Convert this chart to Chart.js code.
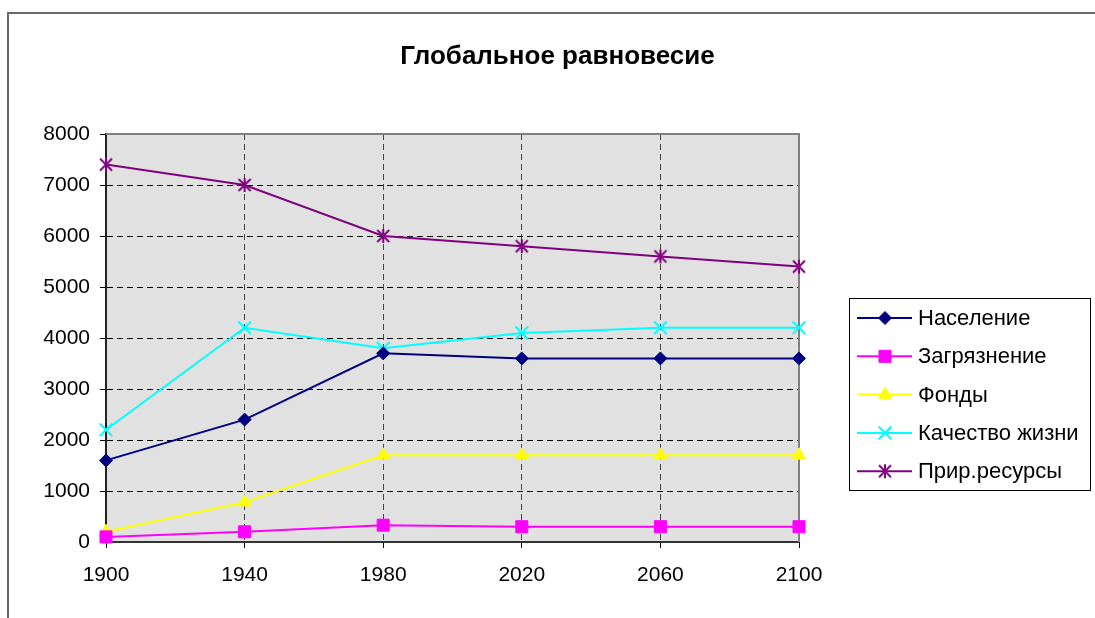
<!DOCTYPE html>
<html>
<head>
<meta charset="utf-8">
<script src="https://cdn.jsdelivr.net/npm/chart.js@4/dist/chart.umd.min.js"></script>
<style>
  html, body { margin: 0; padding: 0; background: #fff; }
</style>
</head>
<body>
<canvas id="chart" width="1095" height="618"></canvas>
<script>
const years = ['1900', '1940', '1980', '2020', '2060', '2100'];

const naselenie = [1600, 2400, 3700, 3600, 3600, 3600];
const zagryaznenie = [100, 200, 330, 300, 300, 300];
const fondy = [200, 780, 1700, 1700, 1700, 1700];
const kachestvo = [2200, 4200, 3800, 4100, 4200, 4200];
const resursy = [7400, 7000, 6000, 5800, 5600, 5400];

const seriesNames = ['Население', 'Загрязнение', 'Фонды', 'Качество жизни', 'Прир.ресурсы'];
const yMin = 0;
const yMax = 8000;
const yStep = 1000;

const fontFamily = '"Liberation Sans", Arial, sans-serif';

// asterisk marker (X with a vertical bar), like the Excel star
function makeStar(color) {
  const c = document.createElement('canvas');
  c.width = 16; c.height = 16;
  const g = c.getContext('2d');
  g.strokeStyle = color;
  g.lineWidth = 2;
  g.beginPath();
  g.moveTo(2, 2); g.lineTo(14, 14);
  g.moveTo(14, 2); g.lineTo(2, 14);
  g.moveTo(8, 1); g.lineTo(8, 15);
  g.stroke();
  return c;
}

function series(label, data, color, style, radius, bw) {
  return {
    label: label,
    data: data,
    borderColor: color,
    backgroundColor: color,
    borderWidth: 2,
    pointStyle: style,
    pointRadius: radius,
    pointHoverRadius: radius,
    pointBorderWidth: bw,
    pointBorderColor: color,
    pointBackgroundColor: color,
    tension: 0,
    clip: false
  };
}

const datasets = [
  series(seriesNames[0], naselenie, '#000080', 'rectRot', 6.5, 1),
  series(seriesNames[1], zagryaznenie, '#ff00ff', 'rect', 8.5, 1),
  series(seriesNames[2], fondy, '#ffff00', 'triangle', 7.5, 1),
  series(seriesNames[3], kachestvo, '#00ffff', 'crossRot', 9, 2),
  series(seriesNames[4], resursy, '#800080', makeStar('#800080'), 8, 2)
];

// page background, outer frame, plot area fill
const framePlugin = {
  id: 'frame',
  beforeDraw(chart) {
    const ctx = chart.ctx;
    const a = chart.chartArea;
    ctx.save();
    ctx.fillStyle = '#fff';
    ctx.fillRect(0, 0, chart.width, chart.height);
    ctx.strokeStyle = '#6a6a6a';
    ctx.lineWidth = 2;
    ctx.beginPath();
    ctx.moveTo(8, chart.height);
    ctx.lineTo(8, 13);
    ctx.lineTo(chart.width, 13);
    ctx.stroke();
    ctx.fillStyle = '#e1e1e1';
    ctx.fillRect(a.left, a.top, a.right - a.left, a.bottom - a.top);
    ctx.restore();
  },
  beforeDatasetsDraw(chart) {
    const ctx = chart.ctx;
    const a = chart.chartArea;
    ctx.save();
    ctx.strokeStyle = '#808080';
    ctx.lineWidth = 2;
    ctx.beginPath();
    ctx.moveTo(a.left, a.top);
    ctx.lineTo(a.right, a.top);
    ctx.lineTo(a.right, a.bottom);
    ctx.stroke();
    ctx.restore();
  }
};

// boxed legend with line + marker samples
const legendPlugin = {
  id: 'boxLegend',
  afterDraw(chart) {
    const ctx = chart.ctx;
    ctx.save();
    ctx.strokeStyle = '#000';
    ctx.lineWidth = 1;
    ctx.strokeRect(849.5, 298.5, 241, 192);
    chart.data.datasets.forEach((ds, i) => {
      const y = 318 + i * 38.3;
      ctx.strokeStyle = ds.borderColor;
      ctx.lineWidth = 2;
      ctx.beginPath();
      ctx.moveTo(857, y);
      ctx.lineTo(912, y);
      ctx.stroke();
      ctx.fillStyle = ds.pointBackgroundColor;
      ctx.strokeStyle = ds.pointBorderColor;
      ctx.lineWidth = ds.pointBorderWidth;
      Chart.helpers.drawPoint(ctx, {
        pointStyle: ds.pointStyle,
        radius: ds.pointRadius,
        borderWidth: ds.pointBorderWidth,
        rotation: 0
      }, 885, y);
      ctx.fillStyle = '#000';
      ctx.font = '22px ' + fontFamily;
      ctx.textBaseline = 'middle';
      ctx.textAlign = 'left';
      ctx.fillText(ds.label, 918, y + 1);
    });
    ctx.restore();
  }
};

new Chart(document.getElementById('chart'), {
  type: 'line',
  data: { labels: years, datasets: datasets },
  options: {
    responsive: false,
    animation: false,
    events: [],
    layout: { padding: { left: 20, right: 0, top: 0, bottom: 0 } },
    plugins: {
      legend: { display: false },
      tooltip: { enabled: false },
      title: {
        display: true,
        text: 'Глобальное равновесие',
        color: '#000',
        font: { family: fontFamily, size: 26, weight: 'bold', lineHeight: 1.2 },
        padding: { top: 41.4, bottom: 61.4 }
      }
    },
    scales: {
      x: {
        type: 'category',
        offset: false,
        afterFit: s => { s.height = 76; },
        grid: {
          offset: false,
          color: c => (c.index === 0 || c.index === years.length - 1) ? 'transparent' : '#444',
          lineWidth: 1,
          tickColor: '#000',
          tickLength: 6
        },
        border: { display: true, color: '#333', width: 2, dash: [6, 4] },
        ticks: {
          color: '#000',
          padding: 15,
          maxRotation: 0,
          font: { family: fontFamily, size: 21 }
        }
      },
      y: {
        min: yMin,
        max: yMax,
        afterFit: s => { s.width = 86; },
        grid: {
          color: c => (c.tick.value === yMin || c.tick.value === yMax) ? 'transparent' : '#000',
          lineWidth: 1,
          tickColor: '#000',
          tickLength: 6
        },
        border: { display: true, color: '#222', width: 2, dash: [6, 4] },
        ticks: {
          stepSize: yStep,
          color: '#000',
          padding: 10,
          font: { family: fontFamily, size: 21 },
          callback: v => String(v)
        }
      },
      yRight: {
        position: 'right',
        display: true,
        afterFit: s => { s.width = 296; },
        grid: { display: false },
        border: { display: false },
        ticks: { display: false }
      }
    }
  },
  plugins: [framePlugin, legendPlugin]
});
</script>
</body>
</html>
